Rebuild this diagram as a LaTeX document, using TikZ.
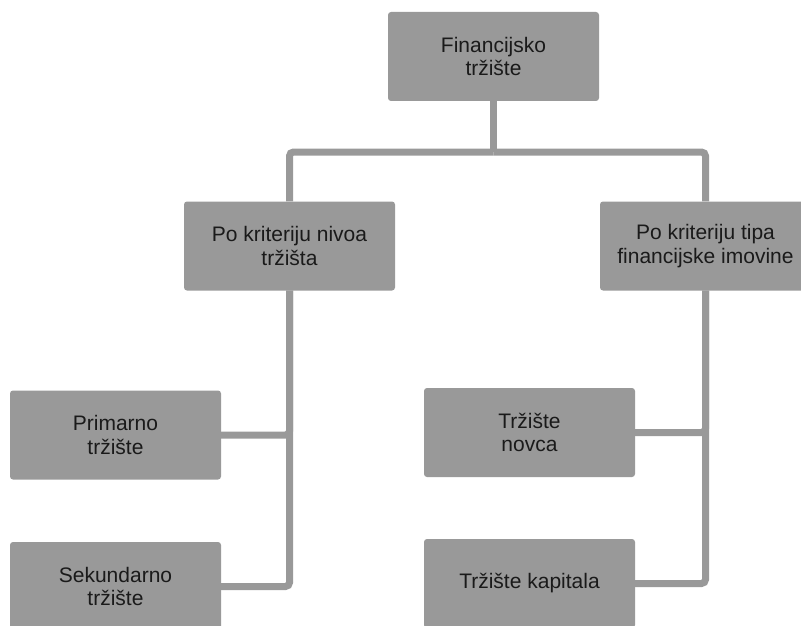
\documentclass[tikz,border=0pt]{standalone}
\usepackage{fontspec}
\setmainfont{Liberation Sans}
\usetikzlibrary{positioning}
\definecolor{boxgray}{HTML}{999999}
\definecolor{textdark}{HTML}{1A1A1A}

\begin{document}
\begin{tikzpicture}[x=1pt,y=1pt,node distance=189.5pt,
  box/.style={fill=boxgray, rounded corners=3pt, minimum width=211pt, minimum height=89pt,
    inner sep=0pt, align=center, text=textdark, font=\fontsize{21}{23.5}\selectfont},
  conn/.style={draw=boxgray, line width=7pt, rounded corners=4pt}]
 \useasboundingbox (0,0) rectangle (801,-626);
 \node[box] (fin) at (493.5,-56.5) {Financijsko\\tržište};
 \node[box] (nivo) [below of=fin, xshift=-204pt] {Po kriteriju nivoa\\tržišta};
 \node[box] (tip)  [below of=fin, xshift=212pt]  {Po kriteriju tipa\\financijske imovine};
 \node[box] (prim) [below of=nivo, node distance=189pt, xshift=-174pt] {Primarno\\tržište};
 \node[box] (sek)  [below of=prim, node distance=151.5pt] {Sekundarno\\tržište};
 \node[box] (novac) [below of=tip, node distance=186.5pt, xshift=-176pt] {Tržište\\novca};
 \node[box] (kap)  [below of=novac, node distance=151pt] {Tržište kapitala};
 \coordinate (split) at (493.5,-152);

 \draw[conn] (fin) -- (split);
 \draw[conn] (split) -| (nivo);
 \draw[conn] (split) -| (tip);
 \draw[conn] (nivo) |- (prim);
 \draw[conn] (nivo) |- (sek);
 \draw[conn] (tip) |- (novac);
 \draw[conn] (tip) |- (kap);
\end{tikzpicture}
\end{document}
